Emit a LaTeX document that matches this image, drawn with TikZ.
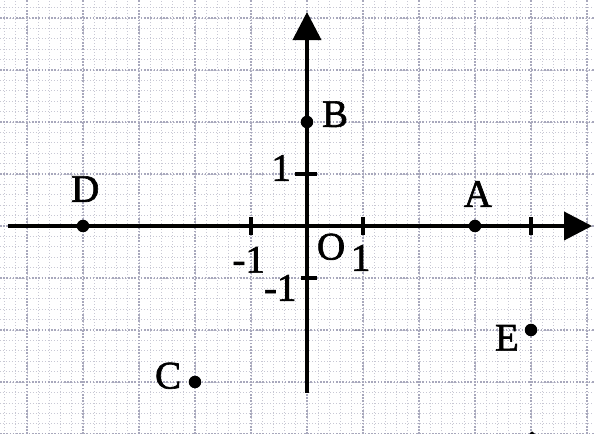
\documentclass[tikz,border=0pt]{standalone}
\usepackage{fontspec}
\setmainfont{Liberation Serif}
\newfontfamily\lblfont[FakeBold=1.6]{Liberation Serif}
\usetikzlibrary{arrows.meta}
\definecolor{gridminor}{RGB}{200,200,212}
\definecolor{gridmajor}{RGB}{168,168,188}
\tikzset{
  minorgrid/.style={gridminor, line width=0.6pt, dash pattern=on 1.2pt off 1.8pt},
  majorgrid/.style={gridmajor, line width=1.2pt, dash pattern=on 1.6pt off 1.6pt},
  axisline/.style={line width=3.8pt, line cap=butt, -{Triangle[length=28pt,width=28pt]}},
  tickmark/.style={line width=3.2pt},
  dotpt/.style={circle, fill=black, inner sep=0pt, minimum size=12.5pt},
  lbl/.style={font=\lblfont\fontsize{39}{41}\selectfont, inner sep=0pt}
}
\begin{document}
\begin{tikzpicture}[x=56pt,y=52pt]
\useasboundingbox (-5.482,-4) rectangle (5.125,4.346);
\fill[white] (-5.482,-4) rectangle (5.125,4.346);
% minor grid
\foreach \i in {-27,...,25}{
  \draw[minorgrid] (\i/5,-4) -- (\i/5,4.346);
}
\foreach \j in {-20,...,21}{
  \draw[minorgrid] (-5.482,\j/5) -- (5.125,\j/5);
}
% major grid
\foreach \i in {-5,...,5}{
  \draw[majorgrid] (\i,-4) -- (\i,4.346);
}
\foreach \j in {-4,...,4}{
  \draw[majorgrid] (-5.482,\j) -- (5.125,\j);
}
% axes
\coordinate (xs) at (-5.34,0);
\coordinate (xe) at (5.09,0);
\coordinate (ys) at (0,-3.21);
\coordinate (ye) at (0,4.115);
\draw[axisline] (xs) -- (xe);
\draw[axisline] (ys) -- (ye);
% ticks
\foreach \x in {-1,1,4}{
  \draw[tickmark] (\x,-0.17) -- (\x,0.17);
}
\draw[tickmark] (-0.21,1) -- (0.18,1);
\draw[tickmark] (-0.1,-1) -- (0.18,-1);
% tick labels
\node[lbl] (o) at (0.43,-0.40) {O};
\node[lbl] (x1) at (0.96,-0.615) {1};
\node[lbl] (xm1) at (-1.04,-0.65) {-1};
\node[lbl] (y1) at (-0.46,1.115) {1};
\node[lbl] (ym1) at (-0.48,-1.19) {-1};
% points
\node[dotpt] (A) at (3,0) {};
\node[dotpt] (B) at (0,2) {};
\node[dotpt] (C) at (-2,-3) {};
\node[dotpt] (D) at (-4,0) {};
\node[dotpt] (E) at (4,-2) {};
\node[lbl] (lA) at (3.05,0.615) {A};
\node[lbl] (lB) at (0.5,2.15) {B};
\node[lbl] (lC) at (-2.48,-2.88) {C};
\node[lbl] (lD) at (-3.96,0.71) {D};
\node[lbl] (lE) at (3.57,-2.15) {E};
% small mark at bottom
\fill (4.02,-3.95) -- (3.97,-4) -- (4.07,-4) -- cycle;
\end{tikzpicture}
\end{document}
